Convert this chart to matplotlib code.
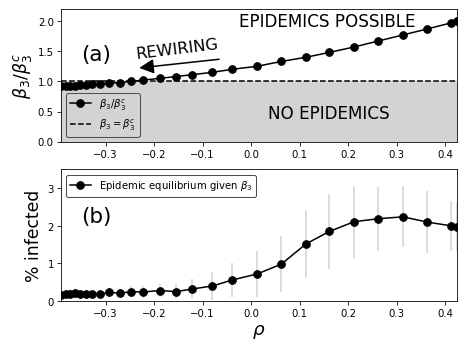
import numpy as np
import matplotlib
matplotlib.use('Agg')
import matplotlib.pyplot as plt

# correlation values (shared by both panels)
rho = [-0.392, -0.381, -0.373, -0.363, -0.353, -0.340, -0.328, -0.311, -0.293,
       -0.270, -0.247, -0.223, -0.188, -0.155, -0.122, -0.080, -0.039,
       0.012, 0.062, 0.113, 0.161, 0.212, 0.262, 0.313, 0.363, 0.412, 0.424]

# panel (a): beta3 / beta3 critical
beta_ratio = [0.92, 0.92, 0.93, 0.93, 0.94, 0.94, 0.95, 0.96, 0.97,
              0.98, 1.00, 1.02, 1.05, 1.08, 1.11, 1.15, 1.20,
              1.25, 1.33, 1.40, 1.48, 1.57, 1.67, 1.77, 1.87, 1.97, 2.00]

# panel (b): % infected and spread
infected = [0.16, 0.18, 0.20, 0.21, 0.20, 0.20, 0.19, 0.18, 0.23,
            0.21, 0.25, 0.24, 0.28, 0.25, 0.32, 0.40, 0.56,
            0.72, 0.98, 1.52, 1.85, 2.11, 2.19, 2.24, 2.10, 2.00, 1.97]
infected_err = [0.10, 0.12, 0.12, 0.12, 0.10, 0.10, 0.10, 0.10, 0.12,
                0.12, 0.15, 0.15, 0.18, 0.20, 0.26, 0.37, 0.45,
                0.62, 0.74, 0.90, 1.00, 0.96, 0.85, 0.81, 0.83, 0.66, 0.65]

fig = plt.figure(figsize=(6.4, 4.8), dpi=73.3)
ax1 = fig.add_axes([0.130, 0.595, 0.844, 0.377])
ax2 = fig.add_axes([0.130, 0.142, 0.844, 0.374])

# (a)
ax1.axhspan(0, 1, color='lightgray', zorder=0)
ax1.plot(rho, beta_ratio, 'k-o', ms=7.5, lw=1.5, label=r'$\beta_3/\beta_3^c$')
ax1.axhline(1.0, color='k', ls='--', lw=1.5, label=r'$\beta_3=\beta_3^c$')
ax1.set_xlim(rho[0], rho[-1])
ax1.set_ylim(0, 2.2)
ax1.set_yticks([0, 0.5, 1.0, 1.5, 2.0])
ax1.set_ylabel(r'$\beta_3/\beta_3^c$', fontsize=17)
leg = ax1.legend(loc='lower left', fontsize=10, facecolor='lightgray', framealpha=1, edgecolor='0.3')
ax1.text(0.157, 2.0, 'EPIDEMICS POSSIBLE', fontsize=16.5, ha='center', va='center')
ax1.text(0.159, 0.48, 'NO EPIDEMICS', fontsize=16.5, ha='center', va='center')
ax1.text(-0.32, 1.45, '(a)', fontsize=21, ha='center', va='center')
ax1.text(-0.153, 1.55, 'REWIRING', fontsize=16, ha='center', va='center', rotation=7)
ax1.annotate('', xy=(-0.235, 1.22), xytext=(-0.062, 1.37),
             arrowprops=dict(arrowstyle='-|>', color='k', lw=1.5, mutation_scale=30))

# (b)
ax2.errorbar(rho, infected, yerr=infected_err, fmt='none', ecolor='lightgray', elinewidth=1.5, zorder=1)
ax2.plot(rho, infected, 'k-o', ms=7.5, lw=1.5, zorder=2,
         label=r'Epidemic equilibrium given $\beta_3$')
ax2.set_xlim(rho[0], rho[-1])
ax2.set_ylim(0, 3.5)
ax2.set_yticks([0, 1, 2, 3])
ax2.set_ylabel('% infected', fontsize=17)
ax2.set_xlabel(r'$\rho$', fontsize=18)
ax2.legend(loc='upper left', fontsize=10, edgecolor='0.3', framealpha=1)
ax2.text(-0.32, 2.25, '(b)', fontsize=21, ha='center', va='center')

for ax in (ax1, ax2):
    ax.set_xticks([-0.3, -0.2, -0.1, 0.0, 0.1, 0.2, 0.3, 0.4])
    ax.tick_params(labelsize=10)

plt.savefig('out.png', dpi=73.3)
